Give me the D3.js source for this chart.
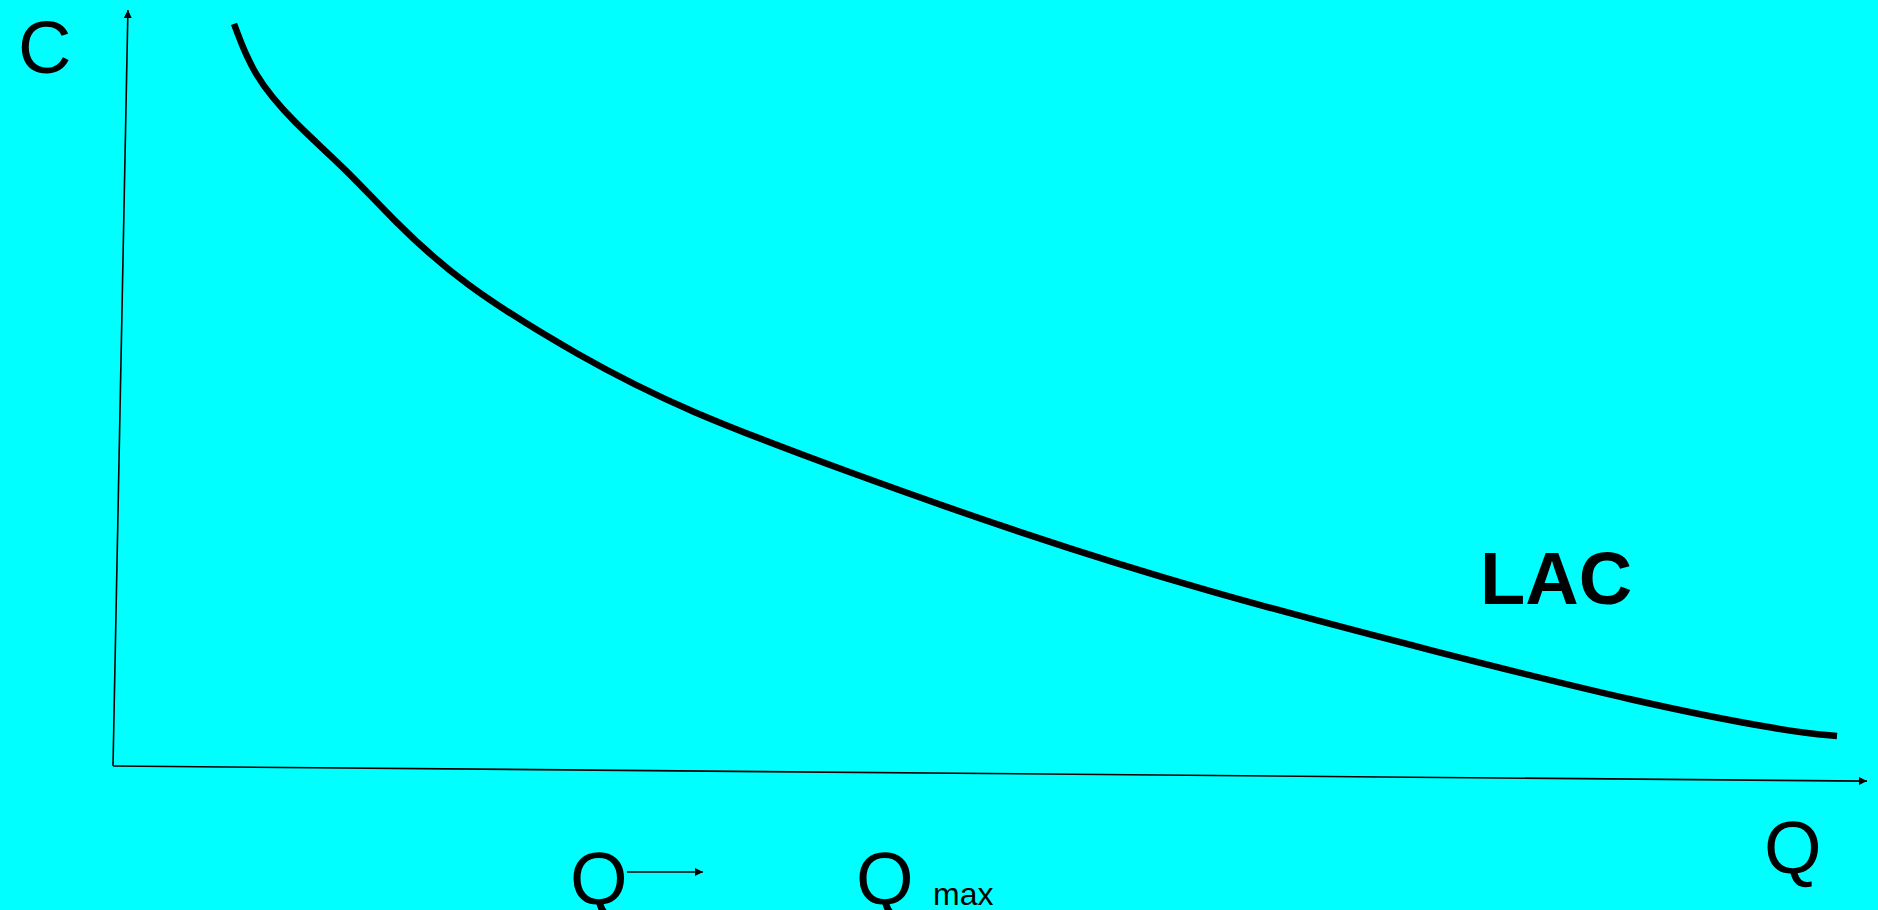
<!DOCTYPE html>
<html>
<head>
<meta charset="utf-8">
<script src="https://cdn.jsdelivr.net/npm/d3@7"></script>
<style>
  html, body { margin: 0; padding: 0; background: #00ffff; }
  svg { display: block; }
  text { font-family: "Liberation Sans", Arial, sans-serif; fill: #000; }
</style>
</head>
<body>
<div id="chart"></div>
<script>
// long-run average cost curve (axis units 0..100)
const lacQ = [6.9, 7.98, 10.26, 13.34, 15.96, 19.78, 26.62, 32.5, 42.02, 51.54, 61.97, 75.66, 87.06, 95.61, 98.29];
const lacC = [98.15, 91.4, 85.19, 78.84, 72.22, 63.89, 54.1, 47.09, 38.76, 30.95, 23.28, 14.95, 8.33, 4.5, 3.97];
const axisLabels = ["C", "Q"];
const curveLabel = "LAC";

const width = 1878;
const height = 910;

const svg = d3.select("#chart")
  .append("svg")
  .attr("width", width)
  .attr("height", height);

svg.append("rect")
  .attr("width", width)
  .attr("height", height)
  .attr("fill", "#00ffff");

const x = d3.scaleLinear().domain([0, 100]).range([113, 1867]);
const y = d3.scaleLinear().domain([0, 100]).range([766, 10]);

const defs = svg.append("defs");
defs.append("marker")
  .attr("id", "arrow")
  .attr("viewBox", [0, 0, 10, 10])
  .attr("refX", 10)
  .attr("refY", 5)
  .attr("markerWidth", 10)
  .attr("markerHeight", 8)
  .attr("markerUnits", "userSpaceOnUse")
  .attr("orient", "auto")
  .append("path")
  .attr("d", d3.line()([[0, 0], [10, 5], [0, 10]]))
  .attr("fill", "black");

// axes are a touch skewed, like the hand drawn original
svg.append("path")
  .attr("d", d3.line()([[x(0), y(0)], [x(0.85), y(100)]]))
  .attr("stroke", "black")
  .attr("stroke-width", 1.6)
  .attr("fill", "none")
  .attr("marker-end", "url(#arrow)");

svg.append("path")
  .attr("d", d3.line()([[x(0), y(0)], [x(100), y(-2)]]))
  .attr("stroke", "black")
  .attr("stroke-width", 1.6)
  .attr("fill", "none")
  .attr("marker-end", "url(#arrow)");

const pts = lacQ.map((q, i) => [q, lacC[i]]);

// basis keeps the hand read points from making the line wobble
svg.append("path")
  .datum(pts)
  .attr("d", d3.line()
    .x(d => x(d[0]))
    .y(d => y(d[1]))
    .curve(d3.curveBasis))
  .attr("stroke", "black")
  .attr("stroke-width", 6.5)
  .attr("stroke-linecap", "butt")
  .attr("fill", "none");

svg.append("text")
  .text(axisLabels[0])
  .attr("x", 18)
  .attr("y", 73)
  .attr("font-size", 74);

svg.append("text")
  .text(axisLabels[1])
  .attr("x", 1764)
  .attr("y", 873)
  .attr("font-size", 74);

svg.append("text")
  .text(curveLabel)
  .attr("x", 1480)
  .attr("y", 604)
  .attr("font-size", 74)
  .attr("font-weight", "bold");

// Q -> Qmax along the bottom
svg.append("text")
  .text("Q")
  .attr("x", 570)
  .attr("y", 904)
  .attr("font-size", 74);

svg.append("path")
  .attr("d", d3.line()([[627, 872], [703, 872]]))
  .attr("stroke", "black")
  .attr("stroke-width", 1.6)
  .attr("marker-end", "url(#arrow)");

svg.append("text")
  .text("Q")
  .attr("x", 856)
  .attr("y", 904)
  .attr("font-size", 74);

svg.append("text")
  .text("max")
  .attr("x", 933)
  .attr("y", 905)
  .attr("font-size", 32);
</script>
</body>
</html>
